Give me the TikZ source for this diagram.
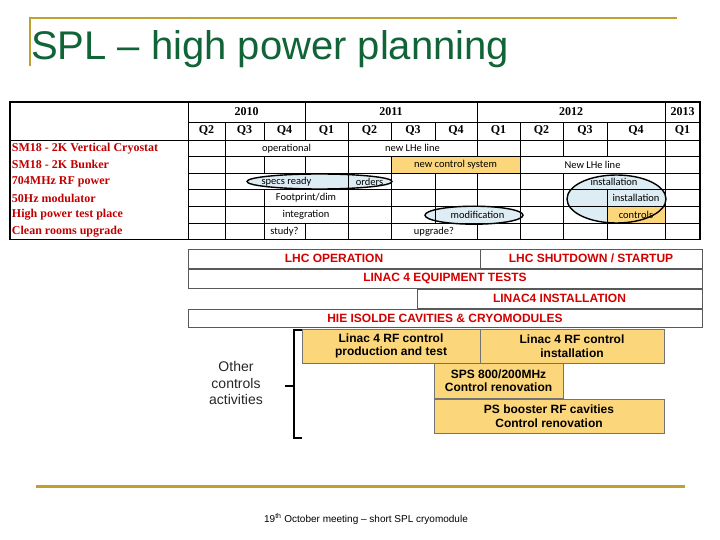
\documentclass[tikz,border=0pt]{standalone}
\usepackage{fontspec}
\setmainfont{Liberation Serif}
\setsansfont{Liberation Sans}
\newfontfamily\calibri{Carlito}
\definecolor{TitleGreen}{RGB}{16, 100, 56}
\definecolor{Gold}{RGB}{192, 160, 48}
\definecolor{LabelRed}{RGB}{192, 0, 0}
\definecolor{BandRed}{RGB}{210, 0, 0}
\definecolor{Sand}{RGB}{252, 214, 122}
\definecolor{Ice}{RGB}{221, 237, 243}
\usetikzlibrary{positioning}

\begin{document}
\begin{tikzpicture}[x=1pt, y=-1pt,
  every node/.style={inner sep=0pt, outer sep=0pt},
  gridline/.style={line width=0.7pt},
  yearhead/.style={font=\rmfamily\bfseries\fontsize{12}{14}\selectfont},
  rowlabel/.style={anchor=west, text=LabelRed, font=\rmfamily\bfseries\fontsize{12}{14}\selectfont},
  cell/.style={font=\calibri\fontsize{10.5}{12}\selectfont},
  band/.style={draw=black!65, line width=0.6pt, text=BandRed, font=\sffamily\bfseries\fontsize{12}{14}\selectfont, minimum height=19pt, anchor=north west},
  task/.style={draw=black!55, fill=Sand, line width=0.6pt, align=center, font=\sffamily\bfseries\fontsize{12}{13.5}\selectfont, anchor=north west},
  blob/.style={line width=1.4pt}]
\useasboundingbox (0,0) rectangle (720,540);

\draw[Gold, line width=2.5pt] (30,66) -- (30,18) -- (677,18);
\node[anchor=base west, text=TitleGreen, font=\sffamily\fontsize{40}{48}\selectfont] (title) at (31,60) {SPL – high power planning};

\fill[Ice] (319.5,181.5) ellipse [x radius=72.5pt, y radius=7.5pt];
\fill[Ice] (474,215.2) ellipse [x radius=49pt, y radius=9pt];
\fill[Ice] (616.5,199) ellipse [x radius=49.5pt, y radius=24pt];
\fill[Sand] (391,156.6) rectangle (520,173.2);
\fill[Sand] (607,206.4) rectangle (665,223);

\draw[gridline] (10,102) rectangle (188,140);
\foreach \a/\b/\t in {188/305/2010, 305/477/2011, 477/665/2012, 665/700/2013} {
  \draw[gridline] (\a,102) rectangle (\b,122);
  \node[yearhead] (y-\t) at ({(\a+\b)/2},112) {\t};
}
\foreach \a/\b/\t [count=\i] in {188/225/Q2, 225/264/Q3, 264/305/Q4, 305/348/Q1, 348/391/Q2, 391/435/Q3, 435/477/Q4, 477/520/Q1, 520/563/Q2, 563/607/Q3, 607/665/Q4, 665/700/Q1} {
  \draw[gridline] (\a,122) rectangle (\b,140);
  \node[yearhead] (q-\i) at ({(\a+\b)/2},131) {\t};
}
\foreach \t [count=\i from 0] in {SM18 - 2K Vertical Cryostat, SM18 - 2K Bunker, 704MHz RF power, 50Hz modulator, High power test place, Clean rooms upgrade}
  \node[rowlabel] (lab-\i) at (12,{148.3+16.6*\i}) {\t};

\foreach \a/\b/\t in {188/225/{}, 225/348/operational, 348/477/new LHe line, 477/520/{}, 520/563/{}, 563/607/{}, 607/665/{}, 665/700/{}} {
  \draw[gridline] (\a,140) rectangle (\b,156.6);
  \node[cell] (r0-\a) at ({(\a+\b)/2},148.3) {\t};
}
\foreach \a/\b/\t in {188/225/{}, 225/264/{}, 264/305/{}, 305/348/{}, 348/391/{}, 391/520/new control system, 520/665/New LHe line, 665/700/{}} {
  \draw[gridline] (\a,156.6) rectangle (\b,173.2);
  \node[cell] (r1-\a) at ({(\a+\b)/2},164.9) {\t};
}
\foreach \a/\b/\t in {188/225/{}, 225/348/specs ready, 348/391/orders, 391/435/{}, 435/477/{}, 477/520/{}, 520/563/{}, 563/665/installation, 665/700/{}} {
  \draw[gridline] (\a,173.2) rectangle (\b,189.8);
  \node[cell] (r2-\a) at ({(\a+\b)/2},181.5) {\t};
}
\foreach \a/\b/\t in {188/225/{}, 225/264/{}, 264/348/{Footprint/dim}, 348/391/{}, 391/435/{}, 435/477/{}, 477/520/{}, 520/563/{}, 563/607/{}, 607/665/installation, 665/700/{}} {
  \draw[gridline] (\a,189.8) rectangle (\b,206.4);
  \node[cell] (r3-\a) at ({(\a+\b)/2},198.1) {\t};
}
\foreach \a/\b/\t in {188/225/{}, 225/264/{}, 264/348/integration, 348/391/{}, 391/435/{}, 435/520/modification, 520/563/{}, 563/607/{}, 607/665/controls, 665/700/{}} {
  \draw[gridline] (\a,206.4) rectangle (\b,223);
  \node[cell] (r4-\a) at ({(\a+\b)/2},214.7) {\t};
}
\foreach \a/\b/\t in {188/225/{}, 225/264/{}, 264/305/study?, 305/348/{}, 348/391/{}, 391/477/upgrade?, 477/520/{}, 520/563/{}, 563/607/{}, 607/665/{}, 665/700/{}} {
  \draw[gridline] (\a,223) rectangle (\b,239.6);
  \node[cell] (r5-\a) at ({(\a+\b)/2},231.3) {\t};
}
\draw[line width=1.2pt] (10,102) rectangle (700,239.6);

\draw[blob] (319.5,181.5) ellipse [x radius=72.5pt, y radius=7.5pt];
\draw[blob] (474,215.2) ellipse [x radius=49pt, y radius=9pt];
\draw[blob] (616.5,199) ellipse [x radius=49.5pt, y radius=24pt];

\node[band, minimum width=292pt] (lhcop) at (188,249) {LHC OPERATION};
\node[band, minimum width=222pt, right=0pt of lhcop] (lhcsd) {LHC SHUTDOWN / STARTUP};
\node[band, minimum width=514pt] (equip) at (188,269) {LINAC 4 EQUIPMENT TESTS};
\node[band, minimum width=285pt] (linst) at (417,289) {LINAC4 INSTALLATION};
\node[band, minimum width=514pt, minimum height=18.5pt] (hie) at (188,309) {HIE ISOLDE CAVITIES \& CRYOMODULES};

\node[task, minimum width=178pt, minimum height=34pt] (rfprod) at (302,329) {Linac 4 RF control\\production and test};
\node[task, minimum width=184pt, minimum height=34pt, right=0pt of rfprod] (rfinst) {Linac 4 RF control\\installation};
\node[task, minimum width=129pt, minimum height=35pt] (sps) at (434,363) {SPS 800/200MHz\\Control renovation};
\node[task, minimum width=230pt, minimum height=34pt] (psb) at (434,399) {PS booster RF cavities\\Control renovation};

\draw[line width=1.8pt] (302,330) -- (294,330) -- (294,438) -- (302,438);
\draw[line width=1.8pt] (294,386) -- (285,386);
\node[align=center, text=black!85, font=\sffamily\fontsize{14}{16.5}\selectfont] (other) at (236,383) {Other\\controls\\activities};

\draw[Gold, line width=3pt] (36,486) -- (685,486);
\node[font=\sffamily\fontsize{10}{12}\selectfont] (footer) at (366,519) {19\textsuperscript{th} October meeting – short SPL cryomodule};
\end{tikzpicture}
\end{document}
